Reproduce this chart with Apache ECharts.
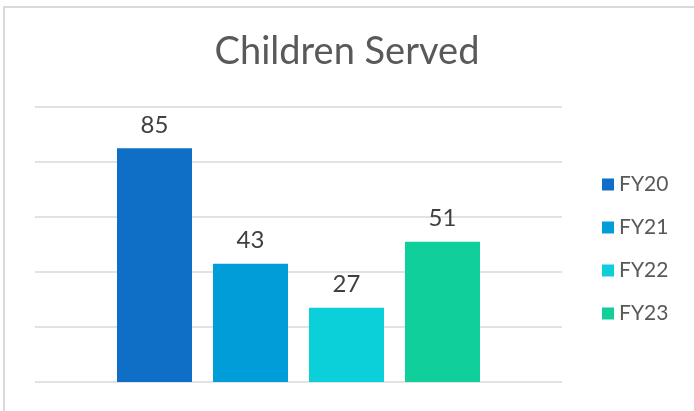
<!DOCTYPE html>
<html><head><meta charset="utf-8">
<script src="https://cdn.jsdelivr.net/npm/echarts@6/dist/echarts.min.js"></script>
<style>html,body{margin:0;padding:0;background:#fff}#c{width:694px;height:411px}</style>
</head><body><div id="c"></div>
<script>
const categories = ['Children Served'];
const seriesNames = ['FY20', 'FY21', 'FY22', 'FY23'];
const seriesValues = [85, 43, 27, 51];
const colors = ['#0F6FC6', '#009DD9', '#0BD0D9', '#10CF9B'];
const FONT = 'Lato';
const chart = echarts.init(document.getElementById('c'), null, {renderer: 'canvas'});
chart.setOption({
  animation: false,
  backgroundColor: '#fff',
  title: {
    text: 'Children Served', left: 'center', top: 28,
    textStyle: {fontFamily: FONT, fontSize: 38, fontWeight: 'normal', color: '#595959'}
  },
  graphic: [{type: 'rect', shape: {x: 4, y: 7, width: 900, height: 600},
    style: {stroke: '#d9d9d9', fill: null, lineWidth: 2}, silent: true, z: -10}],
  legend: {
    orient: 'vertical', left: 597, top: 169, itemWidth: 12, itemHeight: 12, itemGap: 22,
    icon: 'rect',
    textStyle: {fontFamily: FONT, fontSize: 21, color: '#595959'},
    data: seriesNames
  },
  grid: {left: 35, right: 132, top: 107, bottom: 29, containLabel: false},
  xAxis: {type: 'category', data: categories, axisLine: {show: false}, axisTick: {show: false}, axisLabel: {show: false}},
  yAxis: {type: 'value', min: 0, max: 100, interval: 20,
    axisLabel: {show: false}, axisLine: {show: false}, axisTick: {show: false},
    splitLine: {lineStyle: {color: '#d9d9d9', width: 1.5}}},
  series: seriesNames.map((n, i) => ({
    name: n, type: 'bar', barWidth: 75, barGap: '28%',
    itemStyle: {color: colors[i]},
    label: {show: true, position: 'top', distance: 11, fontFamily: FONT, fontSize: 24, color: '#404040'},
    data: [seriesValues[i]]
  }))
});
</script></body></html>
